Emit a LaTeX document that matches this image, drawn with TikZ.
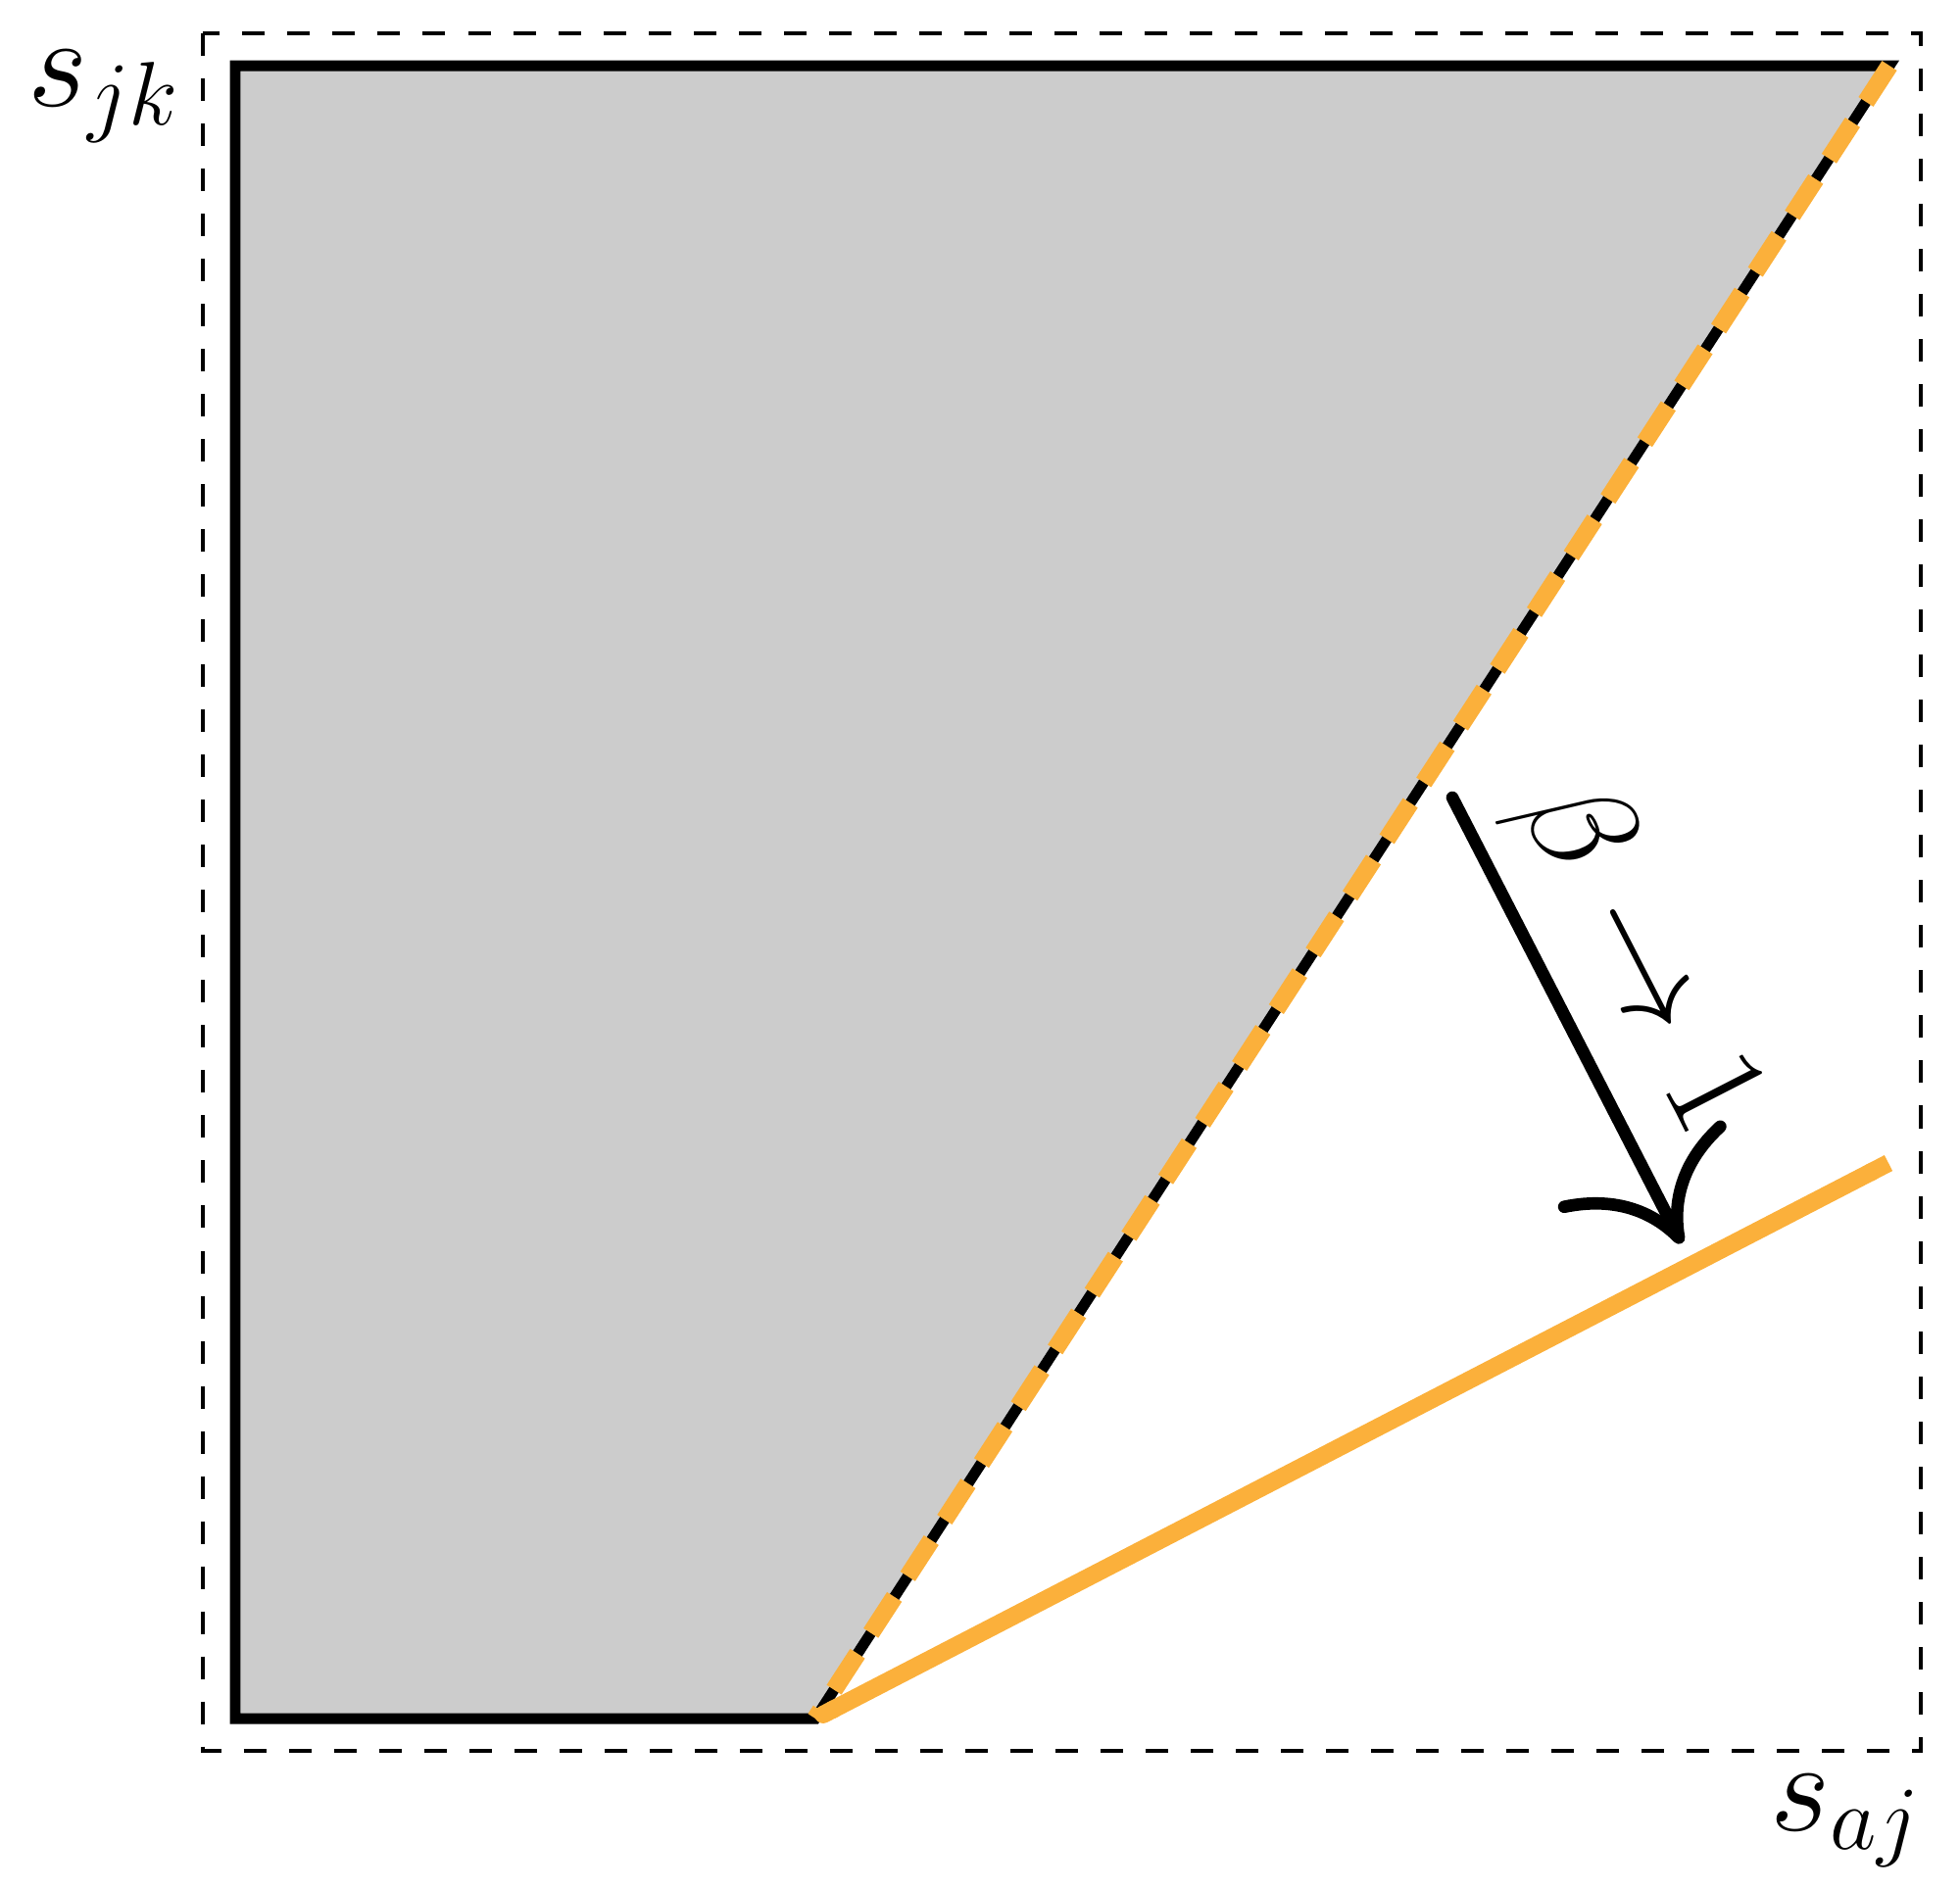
\RequirePackage{fix-cm}
\documentclass[tikz,border=0pt]{standalone}
\usetikzlibrary{arrows.meta}
\definecolor{myorange}{RGB}{251,176,59}
\begin{document}
\begin{tikzpicture}[x=0.13038pt, y=-0.13038pt,
  region/.style={fill=black!20, draw=black, line width=1.43pt, line join=miter},
  boundary/.style={draw=myorange, line width=2.35pt, dash pattern=on 5.74pt off 3.26pt},
  limitline/.style={draw=myorange, line width=2.35pt, {Round Cap[]}-{Butt Cap[]}},
  frame/.style={draw=black, line width=0.56pt, dash pattern=on 3pt off 3pt},
  flow/.style={draw=black, line width=1.65pt, line cap=round, -{Computer Modern Rightarrow[length=12.3pt, width=25pt]}},
  lbl/.style={font=\LARGE, inner sep=0pt},
  flowlbl/.style={font=\fontsize{19.2}{23}\selectfont, inner sep=0pt}]
\useasboundingbox (0,0) rectangle (2000,1927);
% corners
\coordinate (fa) at (207,34);
\coordinate (fb) at (1960,1787);
\coordinate (tl) at (240,67);
\coordinate (tr) at (1928,67);
\coordinate (br) at (832,1754);
\coordinate (bl) at (240,1754);
\coordinate (le) at (1927,1187);
\coordinate (a1) at (1482,814);
\coordinate (a2) at (1716,1269);
% frame
\draw[frame] (fa) rectangle (fb);
% region
\draw[region] (bl) -- (tl) -- (tr) -- (br) -- cycle;
\draw[boundary] (tr) -- (br);
\draw[limitline] (br) -- (le);
% arrow
\draw[flow] (a1) -- (a2);
% labels
\node[lbl, anchor=base east] (sjk) at (187,108) {$s_{jk}$};
\node[lbl, anchor=base east] (saj) at (1963,1868) {$s_{aj}$};
\node[flowlbl, rotate=-62.8] (beta) at (1670,977) {$\beta\to1$};
\end{tikzpicture}
\end{document}
